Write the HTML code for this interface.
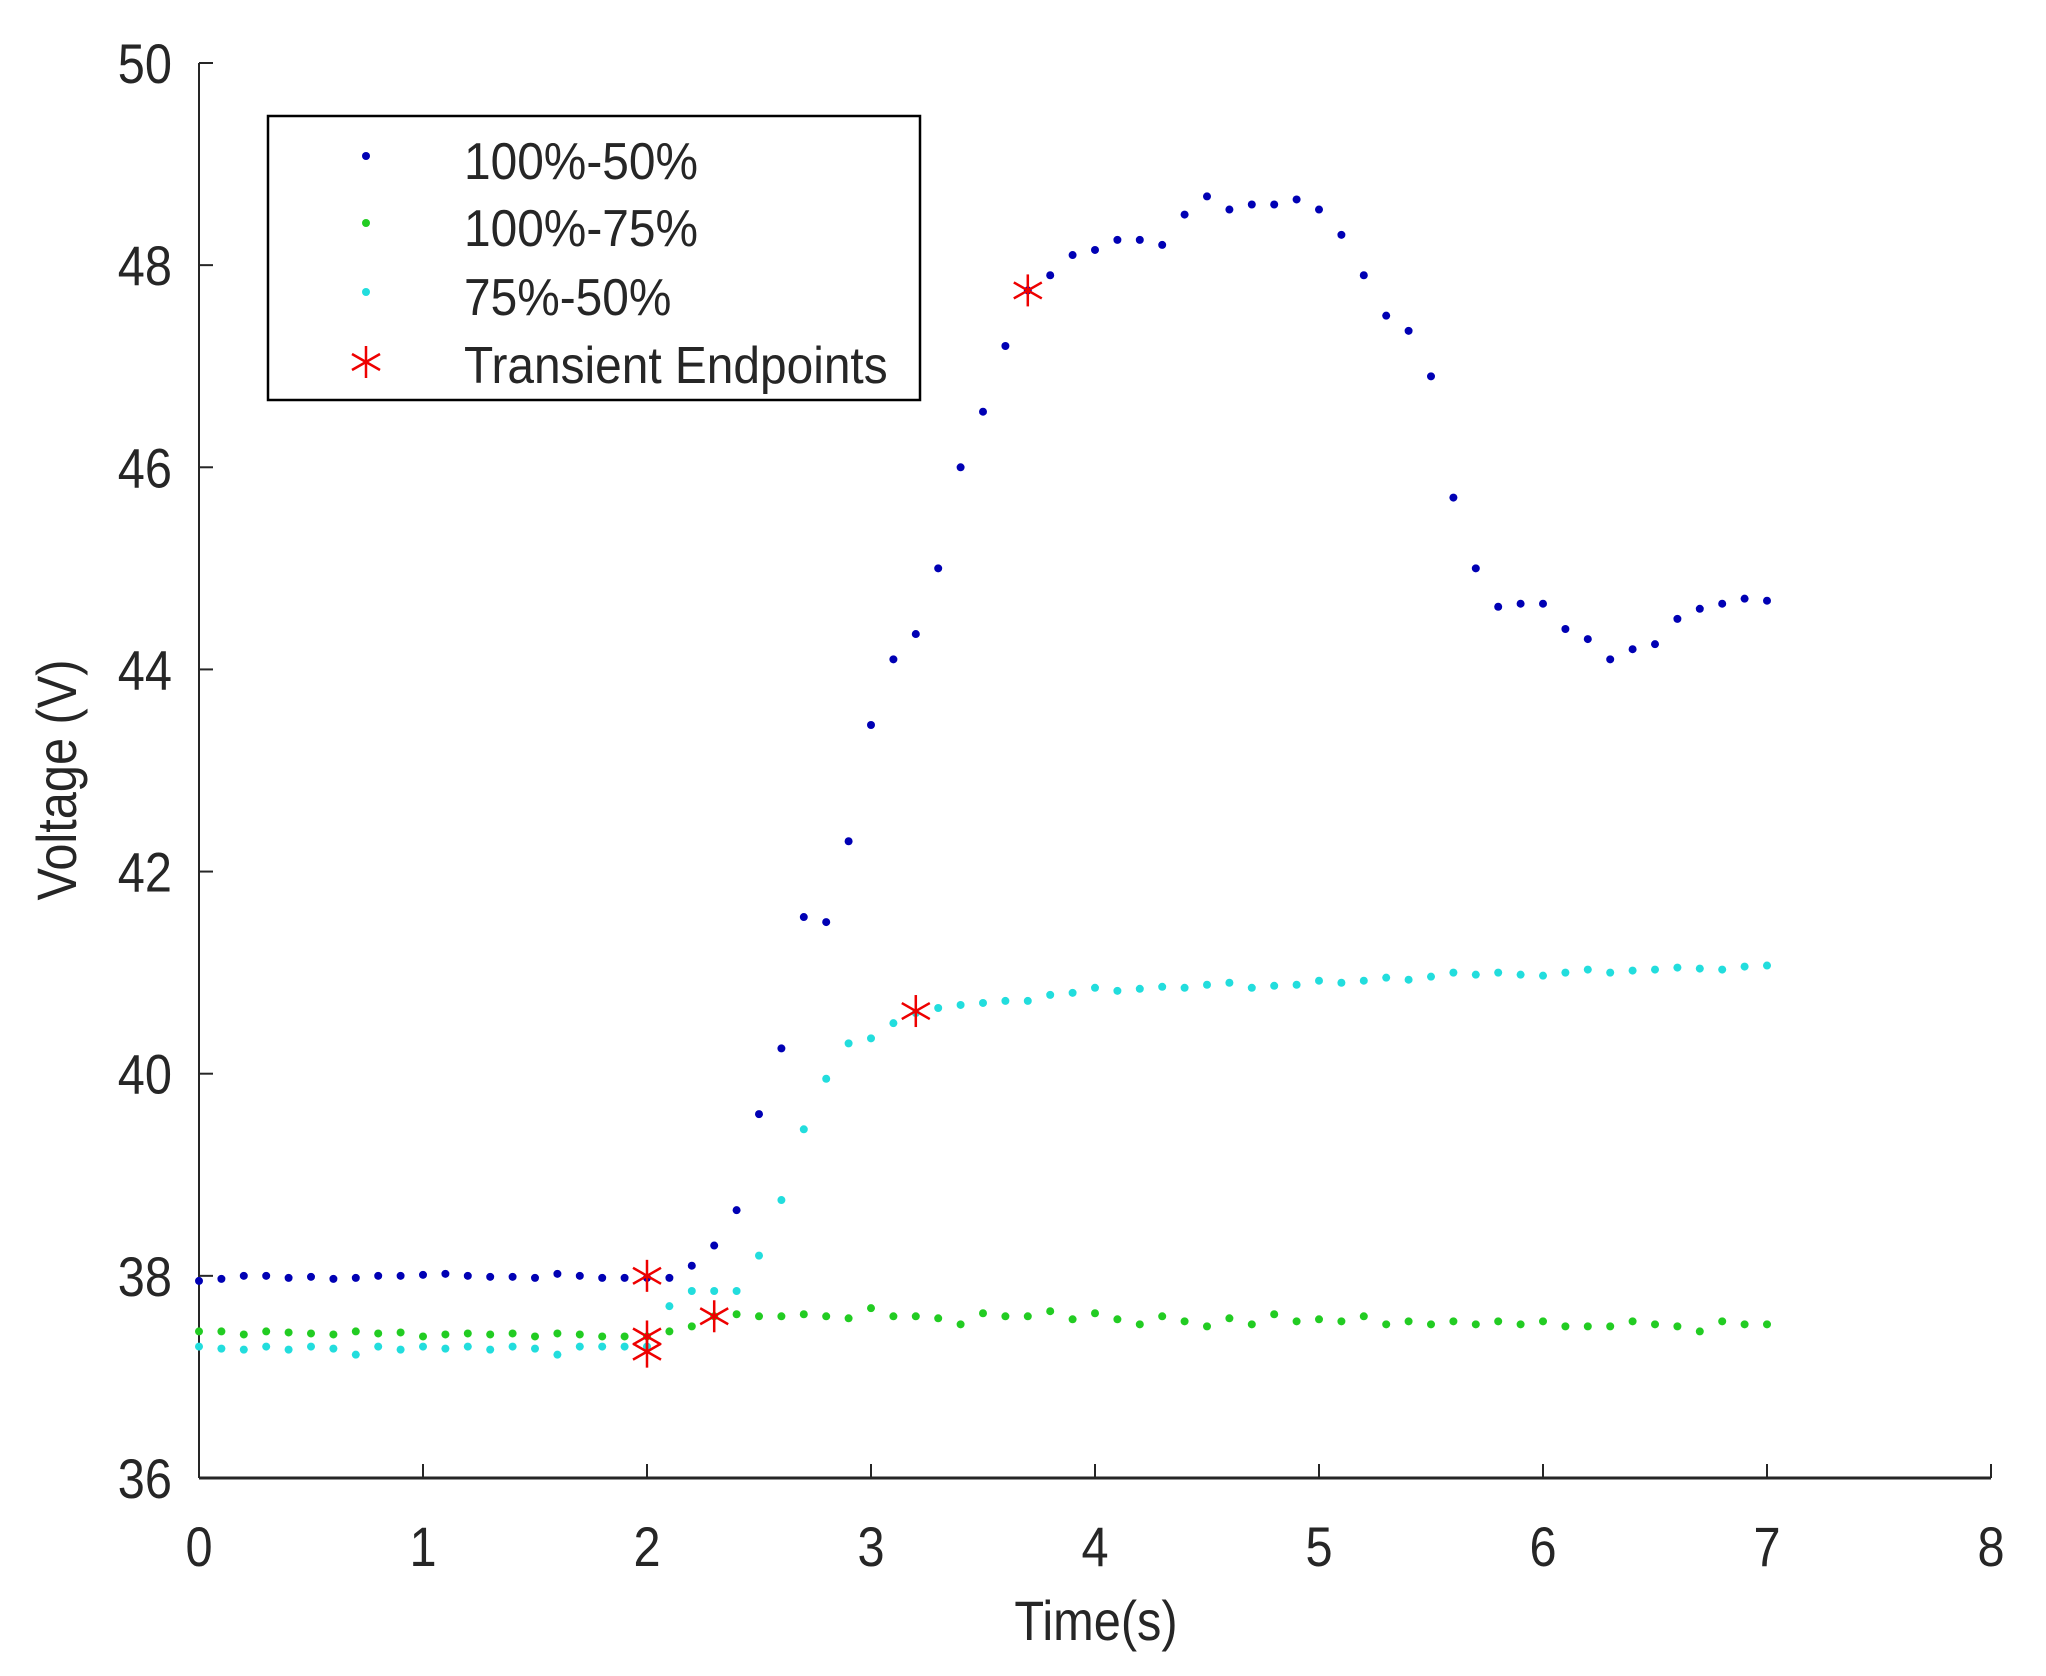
<!DOCTYPE html>
<html><head><meta charset="utf-8"><style>
html,body{margin:0;padding:0;background:#fff}
svg{display:block}
text{font-family:"Liberation Sans",sans-serif;fill:#262626}
</style></head><body>
<svg id="s" width="2046" height="1676" viewBox="0 0 2046 1676" xmlns="http://www.w3.org/2000/svg">
<rect width="2046" height="1676" fill="#fff"/>
<g id="ax"></g>
<g id="data"></g>
<rect x="268" y="116" width="652" height="284" fill="#fff" stroke="#000" stroke-width="2.5"/>
<circle cx="366" cy="156" r="4" fill="#0000b4"/>
<circle cx="366" cy="223" r="4" fill="#22cc22"/>
<circle cx="366" cy="292" r="4" fill="#22dddd"/>
<g stroke="#e00" stroke-width="2.5"><line x1="366" y1="346" x2="366" y2="378"/><line x1="352" y1="354" x2="380" y2="370"/><line x1="352" y1="370" x2="380" y2="354"/></g>
<g font-size="52" transform="translate(464,0)">
<text x="0" y="179" transform="scale(0.92,1)">100%-50%</text>
<text x="0" y="246" transform="scale(0.92,1)">100%-75%</text>
<text x="0" y="315" transform="scale(0.92,1)">75%-50%</text>
<text x="0" y="383" transform="scale(0.92,1)">Transient Endpoints</text>
</g>
<text font-size="56" text-anchor="middle" transform="translate(76,780) rotate(-90) scale(0.87,1)">Voltage (V)</text>
<text font-size="56" text-anchor="middle" transform="translate(1096,1640) scale(0.87,1)">Time(s)</text>
</svg>
<script>
var NS="http://www.w3.org/2000/svg";
function px(t){return 199+224*t}function py(v){return 63+(50-v)*101.07}
function el(p,n,a,txt){var e=document.createElementNS(NS,n);for(var k in a)e.setAttribute(k,a[k]);if(txt!=null)e.textContent=txt;p.appendChild(e);return e}
var ax=document.getElementById('ax'),d=document.getElementById('data');
el(ax,'line',{x1:199,y1:63,x2:199,y2:1478,stroke:'#262626','stroke-width':2});
el(ax,'line',{x1:199,y1:1478,x2:1991,y2:1478,stroke:'#262626','stroke-width':3});
for(var i=0;i<=8;i++){var x=px(i);el(ax,'line',{x1:x,y1:1478,x2:x,y2:1464,stroke:'#262626','stroke-width':2});
el(ax,'text',{x:x,y:1566,'font-size':56,'text-anchor':'middle',transform:'translate('+x+',0) scale(0.87,1) translate('+(-x)+',0)'},i);}
for(var v=36;v<=50;v+=2){var y=py(v);el(ax,'line',{x1:199,y1:y,x2:213,y2:y,stroke:'#262626','stroke-width':2});
el(ax,'text',{x:172,y:y+20,'font-size':56,'text-anchor':'end',transform:'translate(172,0) scale(0.87,1) translate(-172,0)'},v);}
var blue=[37.95,37.97,38,38,37.98,37.99,37.97,37.98,38,38,38.01,38.02,38,37.99,37.99,37.98,38.02,38,37.98,37.98,37.98,37.98,38.1,38.3,38.65,39.6,40.25,41.55,41.5,42.3,43.45,44.1,44.35,45.0,46.0,46.55,47.2,47.75,47.9,48.1,48.15,48.25,48.25,48.2,48.5,48.68,48.55,48.6,48.6,48.65,48.55,48.3,47.9,47.5,47.35,46.9,45.7,45.0,44.62,44.65,44.65,44.4,44.3,44.1,44.2,44.25,44.5,44.6,44.65,44.7,44.68];
var cyan=[37.3,37.28,37.27,37.3,37.27,37.3,37.28,37.22,37.3,37.27,37.3,37.28,37.3,37.27,37.3,37.28,37.22,37.3,37.3,37.3,37.3,37.7,37.85,37.85,37.85,38.2,38.75,39.45,39.95,40.3,40.35,40.5,40.6,40.65,40.68,40.7,40.72,40.72,40.78,40.8,40.85,40.82,40.84,40.86,40.85,40.88,40.9,40.85,40.87,40.88,40.92,40.9,40.92,40.95,40.93,40.96,41.0,40.98,41.0,40.98,40.97,41.0,41.03,41.0,41.02,41.03,41.05,41.04,41.03,41.06,41.07];
var green=[37.45,37.45,37.42,37.45,37.44,37.43,37.42,37.45,37.43,37.44,37.4,37.42,37.43,37.42,37.43,37.4,37.43,37.42,37.4,37.4,37.4,37.45,37.5,37.6,37.62,37.6,37.6,37.62,37.6,37.58,37.68,37.6,37.6,37.58,37.52,37.63,37.6,37.6,37.65,37.57,37.63,37.57,37.52,37.6,37.55,37.5,37.58,37.52,37.62,37.55,37.57,37.55,37.6,37.52,37.55,37.52,37.55,37.52,37.55,37.52,37.55,37.5,37.5,37.5,37.55,37.52,37.5,37.45,37.55,37.52,37.52];
function dots(a,c){for(var i=0;i<a.length;i++)el(d,'circle',{cx:px(i*0.1),cy:py(a[i]),r:4,fill:c})}
dots(green,'#22cc22');dots(cyan,'#22dddd');dots(blue,'#0000b4');
[[2,38.0],[2,37.4],[2,37.25],[2.3,37.6],[3.2,40.62],[3.7,47.75]].forEach(function(p){var x=px(p[0]),y=py(p[1]);
el(d,'line',{x1:x,y1:y-16,x2:x,y2:y+16,stroke:'#e00','stroke-width':2.5});
el(d,'line',{x1:x-14,y1:y-8,x2:x+14,y2:y+8,stroke:'#e00','stroke-width':2.5});
el(d,'line',{x1:x-14,y1:y+8,x2:x+14,y2:y-8,stroke:'#e00','stroke-width':2.5});});
</script>
</body></html>
